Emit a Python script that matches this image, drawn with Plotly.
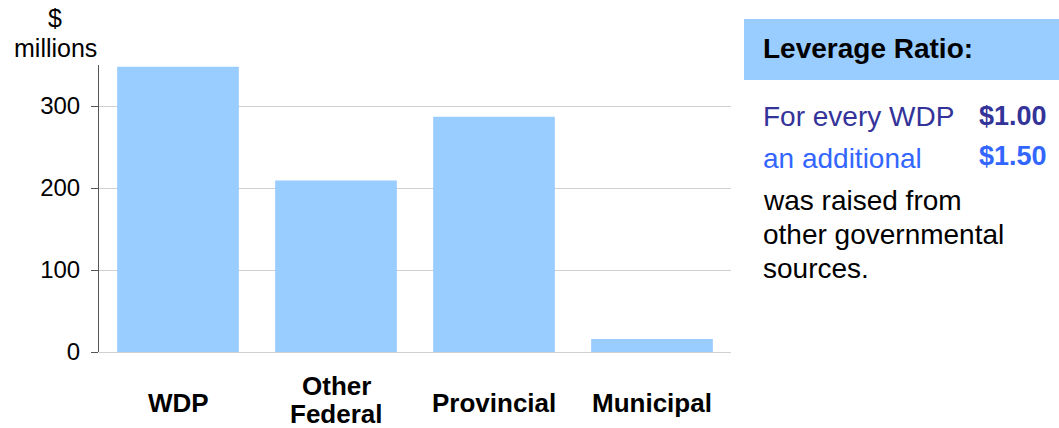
import plotly.graph_objects as go

categories = ["WDP", "Other Federal", "Provincial", "Municipal"]
category_label_lines = [["WDP"], ["Other", "Federal"], ["Provincial"], ["Municipal"]]
funding = [348, 209, 287, 16]
y_ticks = [0, 100, 200, 300]

FONT = "Liberation Sans, Arial, sans-serif"
W, H = 1059, 428
L, R, T, B = 99, 1059 - 731, 65, 428 - 352
pw, ph = W - L - R, H - T - B

def px(x):
    return (x - L) / pw

def py(y):
    return (H - B - y) / ph

fig = go.Figure()
fig.add_trace(go.Bar(
    x=categories, y=funding,
    marker=dict(color="#99ccff", line=dict(width=0)),
    hoverinfo="x+y",
))

fig.update_layout(
    width=W, height=H,
    margin=dict(l=L, r=R, t=T, b=B),
    paper_bgcolor="white", plot_bgcolor="white",
    showlegend=False,
    bargap=0.23,
    font=dict(family=FONT, color="black"),
    xaxis=dict(showticklabels=False, showline=False, showgrid=False,
               ticks="", zeroline=False, range=[-0.5, 3.5]),
    yaxis=dict(range=[0, 350], tickvals=y_ticks, showgrid=True,
               gridcolor="#d0d0d0", gridwidth=1, zeroline=True,
               zerolinecolor="#d0d0d0", zerolinewidth=1,
               showline=True, linecolor="#555555", linewidth=1,
               ticks="outside", ticklen=7, tickcolor="#555555",
               tickfont=dict(size=24, family=FONT, color="black"),
               ticklabelstandoff=6),
)

annotations = []
for cat, lines in zip(categories, category_label_lines):
    n = len(lines)
    centre = 403 if n == 1 else 400
    for i, ln in enumerate(lines):
        yc = centre + (i - (n - 1) / 2) * 28
        annotations.append(dict(x=cat, xref="x", y=py(yc), yref="paper",
                                text="<b>" + ln + "</b>", showarrow=False,
                                xanchor="center", yanchor="middle",
                                font=dict(size=26, family=FONT, color="black")))

annotations.append(dict(x=px(55), y=py(18), xref="paper", yref="paper",
                        text="$", showarrow=False,
                        xanchor="center", yanchor="middle",
                        font=dict(size=25, family=FONT, color="black")))
annotations.append(dict(x=px(55), y=py(48), xref="paper", yref="paper",
                        text="millions", showarrow=False,
                        xanchor="center", yanchor="middle",
                        font=dict(size=25, family=FONT, color="black")))

annotations.append(dict(x=px(761), y=py(48), xref="paper", yref="paper",
                        text="<b>Leverage Ratio:</b>", showarrow=False,
                        xanchor="left", yanchor="middle",
                        font=dict(size=28, family=FONT, color="black")))
annotations.append(dict(x=px(761), y=py(117), xref="paper", yref="paper",
                        text="For every WDP", showarrow=False,
                        xanchor="left", yanchor="middle",
                        font=dict(size=28, family=FONT, color="#333399")))
annotations.append(dict(x=px(1049), y=py(116), xref="paper", yref="paper",
                        text="<b>$1.00</b>", showarrow=False,
                        xanchor="right", yanchor="middle",
                        font=dict(size=27, family=FONT, color="#333399")))
annotations.append(dict(x=px(761), y=py(158), xref="paper", yref="paper",
                        text="an additional", showarrow=False,
                        xanchor="left", yanchor="middle",
                        font=dict(size=28, family=FONT, color="#3366ff")))
annotations.append(dict(x=px(1049), y=py(156), xref="paper", yref="paper",
                        text="<b>$1.50</b>", showarrow=False,
                        xanchor="right", yanchor="middle",
                        font=dict(size=27, family=FONT, color="#3366ff")))
for yc, txt in zip([200, 234, 268], ["was raised from", "other governmental", "sources."]):
    annotations.append(dict(x=px(761), y=py(yc), xref="paper", yref="paper",
                            text=txt, showarrow=False, align="left",
                            xanchor="left", yanchor="middle",
                            font=dict(size=28, family=FONT, color="black")))

fig.update_layout(annotations=annotations)
fig.add_shape(type="rect", xref="paper", yref="paper",
              x0=px(744), x1=px(1059), y0=py(80), y1=py(19),
              fillcolor="#99ccff", line=dict(width=0), layer="below")

fig.write_html("out.html")
